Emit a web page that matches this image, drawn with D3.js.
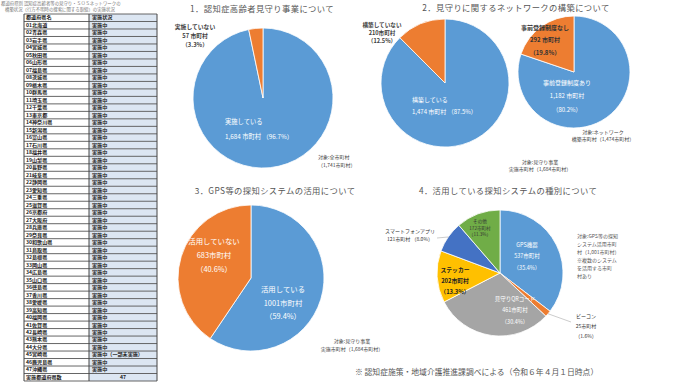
<!DOCTYPE html>
<html><head><meta charset="utf-8">
<script src="https://cdn.jsdelivr.net/npm/d3@7"></script>
<style>
html,body{margin:0;padding:0;background:#fff;}
svg{display:block;font-family:"Noto Sans CJK JP","Noto Sans",sans-serif;}
</style></head>
<body><svg id="c" width="690" height="388"></svg>
<script>
// ---------- DATA ----------
const tableHeader = ["都道府県名", "実施状況"];
const prefectures = ["北海道","青森県","岩手県","宮城県","秋田県","山形県","福島県","茨城県","栃木県","群馬県","埼玉県","千葉県","東京都","神奈川県","新潟県","富山県","石川県","福井県","山梨県","長野県","岐阜県","静岡県","愛知県","三重県","滋賀県","京都府","大阪府","兵庫県","奈良県","和歌山県","鳥取県","島根県","岡山県","広島県","山口県","徳島県","香川県","愛媛県","高知県","福岡県","佐賀県","長崎県","熊本県","大分県","宮崎県","鹿児島県","沖縄県"];
const prefStatus = prefectures.map((p,i)=> i===44 ? "実施中（一部未実施）" : "実施中");
const tableTotal = ["実施都道府県数", "47"];

const chart1Labels = ["実施している", "実施していない"];
const chart1Values = [1684, 57];
const chart1Pct = ["96.7%", "3.3%"];

const chart2aLabels = ["構築している", "構築していない"];
const chart2aValues = [1474, 210];
const chart2aPct = ["87.5%", "12.5%"];

const chart2bLabels = ["事前登録制度あり", "事前登録制度なし"];
const chart2bValues = [1182, 292];
const chart2bPct = ["80.2%", "19.8%"];

const chart3Labels = ["活用している", "活用していない"];
const chart3Values = [1001, 683];
const chart3Pct = ["59.4%", "40.6%"];

const chart4Labels = ["GPS機器", "ビーコン", "見守りQRコード", "ステッカー", "スマートフォンアプリ", "その他"];
const chart4Values = [537, 25, 461, 202, 121, 172];
const chart4Pct = ["35.4%", "1.6%", "30.4%", "13.3%", "8.0%", "11.3%"];

const titles = ["1．認知症高齢者見守り事業について", "2．見守りに関するネットワークの構築について", "3．GPS等の探知システムの活用について", "4．活用している探知システムの種別について"];
const footnote = "※ 認知症施策・地域介護推進課調べによる（令和６年４月１日時点）";

// ---------- DRAW ----------
const svg = d3.select("#c");
const blue="#5b9bd5", orange="#ed7d31", gray="#a5a5a5", yellow="#ffc000", dblue="#4472c4", green="#70ad47";
const txt="#404040";

// table header text
svg.append("text").attr("x",1).attr("y",3.8).attr("font-size",4.4).attr("fill","#777").attr("dominant-baseline","middle")
  .text("都道府県別 認知症高齢者等の見守り・ＳＯＳネットワークの");
svg.append("text").attr("x",5).attr("y",9.6).attr("font-size",4.4).attr("fill","#777").attr("dominant-baseline","middle")
  .text("構築状況（行方不明時の捜索に関する取組）の実施状況");

// table
const rows = [tableHeader].concat(prefectures.map((p,i)=>[String(i+1).padStart(2,"0")+p, prefStatus[i]])).concat([tableTotal]);
const ty = d3.scaleBand().domain(d3.range(rows.length)).range([14,381]);
const tx0=24, tx1=89, tx2=157;
const tg = svg.append("g");
tg.selectAll("rect.c2").data(rows).join("rect").attr("x",tx1).attr("y",(d,i)=>ty(i)).attr("width",tx2-tx1).attr("height",ty.bandwidth())
  .attr("fill","#dce6f2");
tg.selectAll("line.h").data(d3.range(rows.length+1)).join("line")
  .attr("x1",tx0).attr("x2",tx2).attr("y1",i=>i<rows.length?ty(i):381).attr("y2",i=>i<rows.length?ty(i):381)
  .attr("stroke","#555").attr("stroke-width",0.9);
[tx0,tx1,tx2].forEach(x=>tg.append("line").attr("x1",x).attr("x2",x).attr("y1",14).attr("y2",381).attr("stroke","#444").attr("stroke-width",1));
tg.selectAll("text.a").data(rows).join("text").attr("x",tx0+2).attr("y",(d,i)=>ty(i)+ty.bandwidth()/2+0.3)
  .attr("font-size",5.1).attr("fill","#222").attr("font-weight","bold").attr("dominant-baseline","middle").text(d=>d[0]);
tg.selectAll("text.b").data(rows).join("text")
  .attr("x",(d,i)=>i===rows.length-1?(tx1+tx2)/2:tx1+3).attr("text-anchor",(d,i)=>i===rows.length-1?"middle":"start")
  .attr("y",(d,i)=>ty(i)+ty.bandwidth()/2+0.3)
  .attr("font-size",5.1).attr("fill","#222").attr("font-weight","bold").attr("dominant-baseline","middle").text(d=>d[1]);

// titles
const titlePos=[[262,10],[516,9],[275,192],[508,192]];
titles.forEach((t,i)=>svg.append("text").attr("x",titlePos[i][0]).attr("y",titlePos[i][1]).attr("text-anchor","middle")
  .attr("dominant-baseline","middle").attr("font-size",8.3).attr("letter-spacing",0.4).attr("fill","#555").text(t));

function pie(cx,cy,r,values,colors){
  const g=svg.append("g").attr("transform",`translate(${cx},${cy})`);
  const arcs=d3.pie().sort(null).value(d=>d)(values);
  const arc=d3.arc().innerRadius(0).outerRadius(r);
  g.selectAll("path").data(arcs).join("path").attr("d",arc).attr("fill",(d,i)=>colors[i]).attr("stroke","#fff").attr("stroke-width",0.8);
  return {g,arcs,arc};
}
function lines(x,y,arr,opt){
  const o=Object.assign({size:6,fill:txt,anchor:"middle",lh:8,weight:"normal"},opt);
  const t=svg.append("text").attr("font-size",o.size).attr("fill",o.fill).attr("text-anchor",o.anchor).attr("font-weight",o.weight);
  arr.forEach((s,i)=>t.append("tspan").attr("x",x).attr("y",y+i*o.lh).attr("dominant-baseline","middle").text(s));
}
const fmt=d3.format(",");

// chart 1
pie(263,98,70,chart1Values,[blue,orange]);
lines(225,122,[chart1Labels[0], fmt(chart1Values[0])+" 市町村 （"+chart1Pct[0]+"）"],{fill:"#fff",anchor:"start",lh:15,size:6.3});
lines(195,27,[chart1Labels[1], chart1Values[1]+" 市町村", "（"+chart1Pct[1]+"）"],{lh:9,size:5.8,weight:"bold"});
lines(318,158,["対象:全市町村","（1,741市町村）"],{anchor:"start",size:5,lh:8});

// chart 2a
pie(445,83,64,chart2aValues,[blue,orange]);
lines(412,100,[chart2aLabels[0], fmt(chart2aValues[0])+" 市町村 （"+chart2aPct[0]+"）"],{fill:"#fff",anchor:"start",lh:12,size:6});
lines(382,25,[chart2aLabels[1], chart2aValues[1]+"市町村", "（"+chart2aPct[1]+"）"],{lh:8,size:5.6,weight:"bold"});
lines(540,163,["対象:見守り事業","実施市町村（1,684市町村）"],{size:5,lh:7});

// chart 2b
pie(574,72,56,chart2bValues,[blue,orange]);
lines(567,83,[chart2bLabels[0], fmt(chart2bValues[0])+" 市町村", "（"+chart2bPct[0]+"）"],{fill:"#fff",lh:13.5,size:6});
lines(545,28,[chart2bLabels[1], chart2bValues[1]+" 市町村", "（"+chart2bPct[1]+"）"],{lh:12.5,size:6,weight:"bold",fill:"#333"});
lines(603,133,["対象:ネットワーク","構築市町村（1,474市町村）"],{size:5,lh:7});

// chart 3
pie(251,278,73,chart3Values,[blue,orange]);
lines(283,290,[chart3Labels[0], chart3Values[0]+"市町村", "（"+chart3Pct[0]+"）"],{fill:"#fff",lh:13.5,size:7.4});
lines(214,242,[chart3Labels[1], chart3Values[1]+"市町村", "（"+chart3Pct[1]+"）"],{fill:"#fff",lh:14,size:7.4});
lines(352,342,["対象:見守り事業","実施市町村（1,684市町村）"],{size:5,lh:8});

// chart 4
const p4=pie(500,273,63,chart4Values,[blue,orange,gray,yellow,dblue,green]);
lines(527,245,[chart4Labels[0], chart4Values[0]+"市町村", "（"+chart4Pct[0]+"）"],{fill:"#fff",lh:11.5,size:5.5});
lines(515,299,[chart4Labels[2], chart4Values[2]+"市町村", "（"+chart4Pct[2]+"）"],{fill:"#fff",lh:11.5,size:5.5});
lines(455,270,[chart4Labels[3], chart4Values[3]+"市町村", "（"+chart4Pct[3]+"）"],{lh:11,size:5.8,fill:"#222",weight:"bold"});
lines(480,222,[chart4Labels[5], chart4Values[5]+"市町村", "（"+chart4Pct[5]+"）"],{lh:6.5,size:4.6,fill:"#333"});
lines(410,232,[chart4Labels[4], chart4Values[4]+"市町村 （"+chart4Pct[4]+"）"],{lh:8,size:5,fill:"#333"});
lines(586,317,[chart4Labels[1], chart4Values[1]+"市町村", "（"+chart4Pct[1]+"）"],{lh:10,size:5,fill:"#333"});
// leader lines from slice centroids
const a4=d3.arc().innerRadius(63).outerRadius(63);
[[1,[571,322]],[4,[437,238]]].forEach(([i,pt])=>{
  const c=a4.centroid(p4.arcs[i]);
  svg.append("line").attr("x1",500+c[0]).attr("y1",273+c[1]).attr("x2",pt[0]).attr("y2",pt[1]).attr("stroke","#aaa").attr("stroke-width",0.6);
});
lines(577,237,["対象:GPS等の探知","システム活用市町","村（1,001市町村）","※複数のシステム","を活用する市町","村あり"],{anchor:"start",size:5,lh:8,fill:"#555"});

svg.append("text").attr("x",355).attr("y",373).attr("font-size",7.8).attr("fill","#555").attr("dominant-baseline","middle").text(footnote);
</script>
</body></html>
